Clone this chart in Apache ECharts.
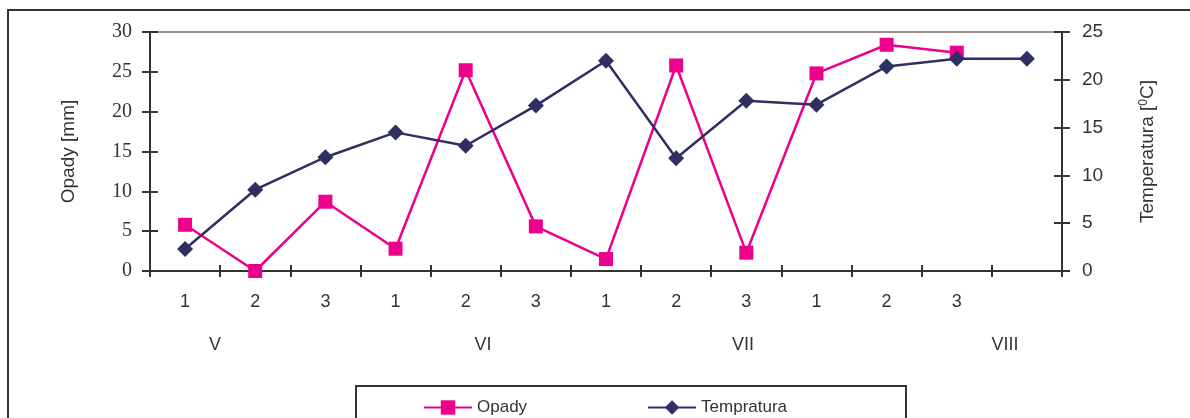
<!DOCTYPE html>
<html>
<head>
<meta charset="utf-8">
<script src="https://cdn.jsdelivr.net/npm/echarts@6/dist/echarts.min.js"></script>
<style>
  html, body { margin: 0; padding: 0; background: #fff; }
  #chart { width: 1190px; height: 418px; }
</style>
</head>
<body>
<div id="chart"></div>
<script>
// decades of each month (V..VIII), last slot empty
const categories = ["1", "2", "3", "1", "2", "3", "1", "2", "3", "1", "2", "3", ""];
const months = ["V", "VI", "VII", "VIII"];
const opady = [5.8, 0, 8.7, 2.8, 25.2, 5.6, 1.5, 25.8, 2.3, 24.8, 28.4, 27.4, null];
const temperatura = [2.3, 8.5, 11.9, 14.5, 13.1, 17.3, 22.0, 11.8, 17.8, 17.4, 21.4, 22.2, 22.2];

const pink = "#ec008c";
const navy = "#2f2f62";
const axisColor = "#333";
const sans = "Liberation Sans, Arial, sans-serif";
const serif = "Liberation Serif, Times New Roman, serif";

const chart = echarts.init(document.getElementById("chart"), null, { renderer: "canvas" });

const monthX = [215, 483, 743, 1005];
const gridBox = { left: 150, right: 128, top: 32, bottom: 147, containLabel: false };
const tickStyle = { color: axisColor, width: 2 };

chart.setOption({
  animation: false,
  backgroundColor: "#fff",
  // grid 0 holds the data, grid 1 only adds inward ticks
  grid: [Object.assign({}, gridBox), Object.assign({}, gridBox)],
  legend: {
    data: ["Opady", "Tempratura"],
    left: 418,
    top: 394,
    itemWidth: 48,
    itemHeight: 18,
    itemGap: 120,
    textStyle: { fontFamily: sans, fontSize: 17, color: "#333" }
  },
  xAxis: [
    {
      gridIndex: 0,
      type: "category",
      data: categories,
      position: "bottom",
      axisLine: { onZero: false, lineStyle: tickStyle },
      axisTick: { show: true, alignWithLabel: false, interval: 0, length: 6, lineStyle: tickStyle },
      axisLabel: { color: "#333", fontFamily: sans, fontSize: 18, margin: 22, interval: 0 },
      splitLine: { show: false }
    },
    {
      gridIndex: 0,
      type: "category",
      data: categories,
      position: "top",
      axisLine: { onZero: false, lineStyle: { color: "#9c8f8a", width: 2 } },
      axisTick: { show: false },
      axisLabel: { show: false }
    },
    {
      gridIndex: 1,
      type: "category",
      data: categories,
      position: "bottom",
      axisLine: { show: false, onZero: false },
      axisTick: { show: true, alignWithLabel: false, interval: 0, inside: true, length: 6, lineStyle: tickStyle },
      axisLabel: { show: false }
    }
  ],
  yAxis: [
    {
      gridIndex: 0,
      type: "value",
      min: 0, max: 30, interval: 5,
      position: "left",
      name: "Opady [mm]",
      nameLocation: "middle",
      nameRotate: 90,
      nameGap: 72,
      nameTextStyle: { fontFamily: sans, fontSize: 19, color: "#333" },
      axisLine: { show: true, onZero: false, lineStyle: tickStyle },
      axisTick: { show: true, length: 8, lineStyle: tickStyle },
      axisLabel: { color: "#333", fontFamily: serif, fontSize: 20, margin: 18 },
      splitLine: { show: false }
    },
    {
      gridIndex: 0,
      type: "value",
      min: 0, max: 25, interval: 5,
      position: "right",
      name: "Temperatura [{sup|0}C]",
      nameLocation: "middle",
      nameRotate: 90,
      nameGap: 76,
      nameTextStyle: {
        fontFamily: sans, fontSize: 19, color: "#333",
        rich: { sup: { fontFamily: sans, fontSize: 12, color: "#333", verticalAlign: "top", padding: [0, 0, 8, 0] } }
      },
      axisLine: { show: true, onZero: false, lineStyle: tickStyle },
      axisTick: { show: true, length: 8, lineStyle: tickStyle },
      axisLabel: { color: "#333", fontFamily: sans, fontSize: 19, margin: 20 },
      splitLine: { show: false }
    },
    {
      gridIndex: 1,
      type: "value",
      min: 0, max: 30, interval: 5,
      position: "left",
      axisLine: { show: false, onZero: false },
      axisTick: { show: true, inside: true, length: 8, lineStyle: tickStyle },
      axisLabel: { show: false },
      splitLine: { show: false }
    },
    {
      gridIndex: 1,
      type: "value",
      min: 0, max: 25, interval: 5,
      position: "right",
      axisLine: { show: false, onZero: false },
      axisTick: { show: true, inside: true, length: 8, lineStyle: tickStyle },
      axisLabel: { show: false },
      splitLine: { show: false }
    }
  ],
  series: [
    {
      name: "Opady",
      type: "line",
      xAxisIndex: 0,
      yAxisIndex: 0,
      data: opady,
      symbol: "rect",
      symbolSize: 14,
      itemStyle: { color: pink },
      lineStyle: { color: pink, width: 2.5 },
      z: 3
    },
    {
      name: "Tempratura",
      type: "line",
      xAxisIndex: 0,
      yAxisIndex: 1,
      data: temperatura,
      symbol: "diamond",
      symbolSize: 16,
      itemStyle: { color: navy },
      lineStyle: { color: navy, width: 2.5 },
      z: 4
    }
  ],
  graphic: [
    {
      type: "rect",
      shape: { x: 8, y: 10, width: 1200, height: 500 },
      style: { fill: null, stroke: "#333", lineWidth: 2 },
      silent: true
    },
    {
      type: "rect",
      shape: { x: 356, y: 386, width: 550, height: 60 },
      style: { fill: null, stroke: "#333", lineWidth: 2 },
      silent: true
    }
  ].concat(months.map((m, i) => ({
    type: "text",
    x: monthX[i],
    y: 345,
    style: {
      text: m,
      fill: "#333",
      font: "18px " + sans,
      align: "center",
      verticalAlign: "middle"
    },
    silent: true
  })))
});
</script>
</body>
</html>
